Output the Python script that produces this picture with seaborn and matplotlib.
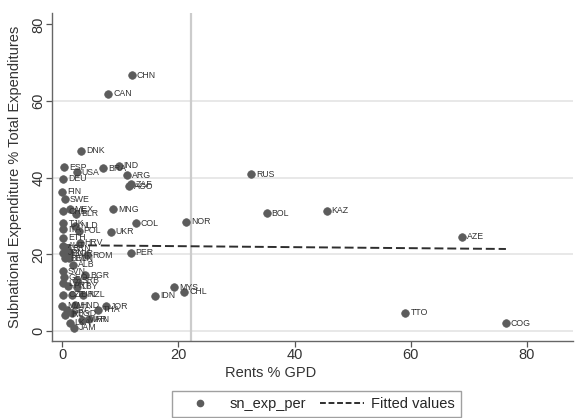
import matplotlib
matplotlib.use("Agg")
import matplotlib.pyplot as plt
import seaborn as sns
import pandas as pd
from matplotlib.lines import Line2D

# ---- data ----
countries = ["CHN", "CAN", "DNK", "ESP", "USA", "BRA", "IND", "ARG", "ZAF", "AGO",
             "DEU", "RUS", "FIN", "SWE", "CHE", "MEX", "BLR", "MNG", "BOL", "KAZ",
             "NOR", "COL", "TJK", "NLD", "ITA", "POL", "UKR", "ETH", "AZE", "HRV",
             "AUT", "BRN", "PER", "JPN", "KOR", "ROM", "TWN", "BEL", "ALB", "SVN",
             "BGR", "GEO", "SRB", "LVA", "LBY", "PRT", "MYS", "CHL", "IDN", "CZE",
             "TUR", "NZL", "MWI", "HND", "JOR", "THA", "GRC", "IRL", "BGD", "MAR",
             "IRN", "TTO", "LKA", "JAM", "COG"]
rents = [12.0, 7.9, 3.3, 0.3, 2.5, 7.0, 9.7, 11.1, 11.8, 11.5,
         0.2, 32.5, 0.0, 0.5, 0.2, 1.3, 2.4, 8.8, 35.2, 45.5,
         21.3, 12.7, 0.2, 2.2, 0.2, 2.8, 8.3, 0.2, 68.8, 3.0,
         0.2, 0.8, 11.8, 0.1, 1.3, 4.3, 1.2, 0.5, 1.8, 0.1,
         3.9, 0.3, 2.5, 0.2, 2.5, 1.0, 19.3, 21.0, 16.0, 0.2,
         1.6, 3.6, 0.0, 2.2, 7.6, 6.2, 0.8, 0.5, 1.7, 3.4,
         4.6, 59.1, 1.3, 2.0, 76.4]
sn_exp_per = [66.8, 61.9, 47.0, 42.7, 41.4, 42.5, 43.1, 40.7, 38.3, 37.8,
              39.7, 40.9, 36.4, 34.4, 31.3, 31.8, 30.6, 31.8, 30.7, 31.4,
              28.5, 28.1, 28.1, 27.4, 26.6, 26.2, 25.9, 24.3, 24.6, 23.0,
              22.3, 21.6, 20.4, 20.4, 20.3, 19.8, 19.0, 19.0, 17.3, 15.6,
              14.6, 14.0, 13.3, 12.5, 11.6, 11.8, 11.4, 10.3, 9.2, 9.4,
              9.4, 9.4, 6.6, 6.7, 6.5, 5.5, 5.4, 4.2, 4.6, 2.9,
              3.0, 4.7, 2.1, 0.8, 2.0]
fit_x = [0.0, 76.4]
fit_y = [22.4, 21.4]
xline_pos = [22.1]
x_ticks = [0, 20, 40, 60, 80]
y_ticks = [0, 20, 40, 60, 80]
y_grid = [0, 20, 40, 60]

df = pd.DataFrame({"country": countries, "rents": rents, "sn_exp_per": sn_exp_per})
fit_df = pd.DataFrame({"rents": fit_x, "fitted": fit_y})

sns.set_theme(style="white")
plt.rcParams["font.family"] = ["Liberation Sans", "DejaVu Sans"]

fig = plt.figure(figsize=(5.75, 4.18), dpi=100)
ax = fig.add_axes([0.0899, 0.185, 0.9071, 0.784])

for g in y_grid:
    ax.axhline(g, color="#e4e4e4", lw=1.2, zorder=0)
for xv in xline_pos:
    ax.axvline(xv, color="#cccccc", lw=1.6, zorder=0.5)

point_col = "#5c5c5c"
line_col = "#2e2e2e"
sns.scatterplot(data=df, x="rents", y="sn_exp_per", ax=ax, color=point_col,
                s=30, edgecolor=point_col, linewidth=0.5, zorder=3, legend=False)
sns.lineplot(data=fit_df, x="rents", y="fitted", ax=ax, color=line_col,
             lw=1.4, zorder=2.5, legend=False)
ax.lines[-1].set_dashes((4.6, 2.0))

for _, r in df.iterrows():
    ax.annotate(r["country"], (r["rents"], r["sn_exp_per"]), xytext=(3.5, 0),
                textcoords="offset points", fontsize=6.3, color="#333333",
                va="center", ha="left", zorder=4)

ax.set_xlim(-1.83, 88.0)
ax.set_ylim(-2.53, 83.0)
ax.set_xticks(x_ticks)
ax.set_yticks(y_ticks)
ax.tick_params(axis="both", direction="out", length=4, width=0.9, color="#555555",
               labelsize=10.5, labelcolor="#333333")
ax.tick_params(axis="x", bottom=True, pad=1)
ax.tick_params(axis="y", left=True, labelrotation=90, pad=0.3)
for lab in ax.get_yticklabels():
    lab.set_va("center")

for side in ["top", "right"]:
    ax.spines[side].set_visible(False)
for side in ["left", "bottom"]:
    ax.spines[side].set_color("#666666")
    ax.spines[side].set_linewidth(1.0)

ax.set_xlabel("Rents % GPD", fontsize=10.5, color="#333333")
ax.set_ylabel("Subnational Expenditure % Total Expenditures", fontsize=10.5, color="#333333")
ax.xaxis.set_label_coords(0.42, -0.078)
ax.yaxis.set_label_coords(-0.057, 0.5)

handles = [Line2D([0], [0], marker="o", color="none", markerfacecolor=point_col,
                  markeredgecolor=point_col, markersize=4.5),
           Line2D([0], [0], color=line_col, lw=1.4, dashes=(3.0, 1.4))]
leg = fig.legend(handles, ["sn_exp_per", "Fitted values"], loc="upper center",
                 bbox_to_anchor=(0.5504, 0.0646), ncol=2, fontsize=10.5,
                 frameon=True, fancybox=False, edgecolor="#888888",
                 handlelength=3.0, columnspacing=1.0, handletextpad=0.5,
                 borderpad=0.4, borderaxespad=0.0)
leg.get_frame().set_linewidth(1.0)

fig.savefig("out.png", dpi=100)
